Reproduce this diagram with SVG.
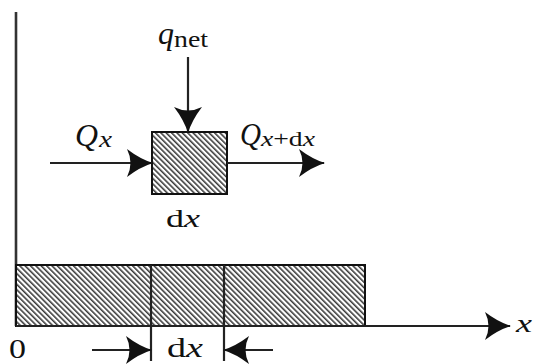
<svg xmlns="http://www.w3.org/2000/svg" width="536" height="364" viewBox="0 0 536 364">
  <defs>
    <pattern id="hatch" patternUnits="userSpaceOnUse" width="3.8" height="3.8" patternTransform="rotate(-45)">
      <rect width="3.8" height="3.8" fill="#fff"/>
      <line x1="0.8" y1="0" x2="0.8" y2="3.8" stroke="#222" stroke-width="1.4"/>
    </pattern>
    <marker id="arr" viewBox="0 0 26 28" refX="25" refY="14" markerWidth="26" markerHeight="28" markerUnits="userSpaceOnUse" orient="auto">
      <path d="M0,0 Q13,10 26,14 Q13,18 0,28 Q7,14 0,0 Z" fill="#111"/>
    </marker>
  </defs>
  <style>
    .ln { stroke: #222; stroke-width: 2.2; fill: none; }
    .ax { stroke: #333; stroke-width: 2.6; fill: none; }
    .hb { fill: url(#hatch); stroke: #111; stroke-width: 2; }
    .t { font-family: "Liberation Serif", "Times New Roman", serif; fill: #111; }
    .i { font-style: italic; }
  </style>
  <rect width="536" height="364" fill="#fff"/>

  <g id="axes">
    <line class="ax" x1="16" y1="12" x2="16" y2="326"/>
  </g>

  <g id="bar">
    <rect class="hb" x="16" y="265" width="349" height="61"/>
    <line class="ln" x1="151" y1="265" x2="151" y2="361"/>
    <line class="ln" x1="224" y1="265" x2="224" y2="361"/>
  </g>

  <g id="element">
    <rect class="hb" x="152" y="132" width="75" height="62"/>
  </g>

  <g id="connectors">
    <line class="ln" x1="16" y1="326" x2="510" y2="326" marker-end="url(#arr)"/>
    <line class="ln" x1="50" y1="163" x2="152" y2="163" marker-end="url(#arr)"/>
    <line class="ln" x1="227" y1="163" x2="324" y2="163" marker-end="url(#arr)"/>
    <line class="ln" x1="188" y1="57" x2="188" y2="132" marker-end="url(#arr)"/>
    <line class="ln" x1="92" y1="350" x2="151" y2="350" marker-end="url(#arr)"/>
    <line class="ln" x1="273" y1="350" x2="224" y2="350" marker-end="url(#arr)"/>
  </g>

  <g id="labels">
    <text class="t i" x="158" y="44" font-size="31" textLength="16" lengthAdjust="spacingAndGlyphs">q</text>
    <text class="t" x="174" y="47" font-size="24" textLength="34" lengthAdjust="spacingAndGlyphs">net</text>
    <text class="t i" x="75" y="146" font-size="31" textLength="23" lengthAdjust="spacingAndGlyphs">Q</text>
    <text class="t i" x="99" y="147" font-size="23" textLength="13" lengthAdjust="spacingAndGlyphs">x</text>
    <text class="t i" x="240" y="145" font-size="31" textLength="21" lengthAdjust="spacingAndGlyphs">Q</text>
    <text class="t" x="261" y="146" font-size="22" textLength="54" lengthAdjust="spacingAndGlyphs"><tspan class="i">x</tspan>+d<tspan class="i">x</tspan></text>
    <text class="t" x="166" y="227" font-size="25" textLength="34" lengthAdjust="spacingAndGlyphs">d<tspan class="i">x</tspan></text>
    <text class="t" x="167" y="357" font-size="27" textLength="36" lengthAdjust="spacingAndGlyphs">d<tspan class="i">x</tspan></text>
    <text class="t" x="9" y="358" font-size="27" textLength="17" lengthAdjust="spacingAndGlyphs">0</text>
    <text class="t i" x="516" y="332" font-size="26" textLength="16" lengthAdjust="spacingAndGlyphs">x</text>
  </g>
</svg>
